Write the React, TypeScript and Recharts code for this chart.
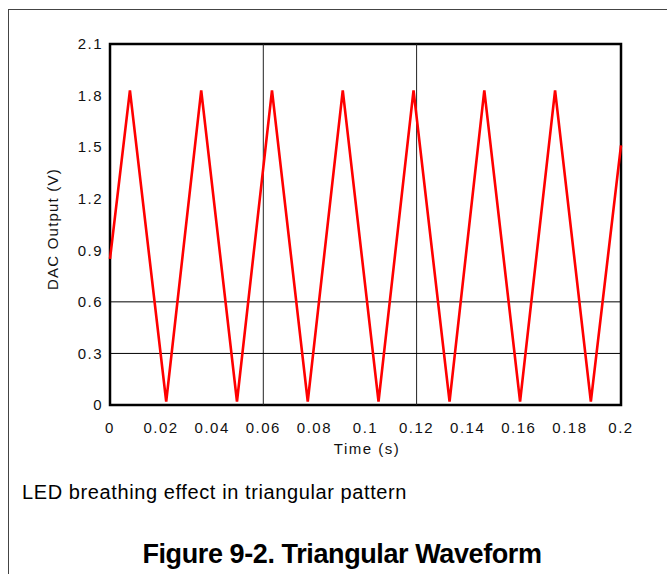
import React from 'react';
import { LineChart, Line, XAxis, YAxis, ReferenceLine, ReferenceArea } from 'recharts';

// vertices of the triangle wave
const times = [0, 0.0078, 0.022, 0.0357, 0.0497, 0.0634, 0.0774, 0.0911, 0.1051, 0.1188, 0.1329, 0.1465, 0.1605, 0.1742, 0.1882, 0.2];
const volts = [0.85, 1.83, 0.02, 1.83, 0.02, 1.83, 0.02, 1.83, 0.02, 1.83, 0.02, 1.83, 0.02, 1.83, 0.02, 1.51];

const xTicks = [0, 0.02, 0.04, 0.06, 0.08, 0.1, 0.12, 0.14, 0.16, 0.18, 0.2];
const yTicks = [0, 0.3, 0.6, 0.9, 1.2, 1.5, 1.8, 2.1];
const gridX = [0.06, 0.12];
const gridY = [0.3, 0.6];

const data = times.map((t, i) => ({ t, v: volts[i] }));

const font = '"Liberation Sans", Arial, sans-serif';
const tickStyle = { fontSize: 15, fontFamily: font, fill: '#111', letterSpacing: 1.5 };

const App: React.FC = () => {
  return (
    <div style={{ position: 'relative', width: 667, height: 574, overflow: 'hidden', fontFamily: font }}>
      <style>{'body{margin:0}'}</style>
      <div
        style={{
          position: 'absolute',
          left: 8,
          top: 9,
          width: 700,
          height: 600,
          borderLeft: '1px solid #444',
          borderTop: '1px solid #444',
        }}
      />
      <div style={{ position: 'absolute', left: 0, top: 0 }}>
        <LineChart width={667} height={470} data={data} margin={{ top: 44, right: 46, bottom: 35, left: 50 }}>
          <XAxis
            type="number"
            dataKey="t"
            domain={[0, 0.2]}
            ticks={xTicks}
            tickLine={false}
            axisLine={false}
            tickMargin={11}
            height={30}
            tick={tickStyle}
            interval={0}
          />
          <YAxis
            type="number"
            domain={[0, 2.1]}
            ticks={yTicks}
            tickLine={false}
            axisLine={false}
            width={60}
            tickMargin={1}
            tick={tickStyle}
            interval={0}
          />
          {gridX.map((x) => (
            <ReferenceLine key={'gx' + x} x={x} stroke="#222" strokeWidth={1} />
          ))}
          {gridY.map((y) => (
            <ReferenceLine key={'gy' + y} y={y} stroke="#000" strokeWidth={1} />
          ))}
          <Line
            type="linear"
            dataKey="v"
            stroke="#ff0000"
            strokeWidth={2.6}
            dot={false}
            isAnimationActive={false}
          />
          <ReferenceArea x1={0} x2={0.2} y1={0} y2={2.1} fill="none" fillOpacity={0} stroke="#000" strokeWidth={2.5} />
          <text
            x={52}
            y={229}
            transform="rotate(-90 52 229)"
            textAnchor="middle"
            dominantBaseline="central"
            style={{ fontSize: 15, fontFamily: font, fill: '#111', letterSpacing: 1.2 }}
          >
            DAC Output (V)
          </text>
          <text
            x={367}
            y={454}
            textAnchor="middle"
            style={{ fontSize: 15, fontFamily: font, fill: '#111', letterSpacing: 1.5 }}
          >
            Time (s)
          </text>
        </LineChart>
      </div>
      <div
        style={{
          position: 'absolute',
          left: 22,
          top: 481,
          fontSize: 20,
          letterSpacing: 0.6,
          color: '#000',
          whiteSpace: 'nowrap',
          lineHeight: '23px',
        }}
      >
        LED breathing effect in triangular pattern
      </div>
      <div
        style={{
          position: 'absolute',
          left: 0,
          width: 684,
          top: 539,
          textAlign: 'center',
          fontSize: 27,
          fontWeight: 'bold',
          letterSpacing: -0.4,
          color: '#000',
          whiteSpace: 'nowrap',
          lineHeight: '31px',
        }}
      >
        Figure 9-2. Triangular Waveform
      </div>
    </div>
  );
};

export default App;
